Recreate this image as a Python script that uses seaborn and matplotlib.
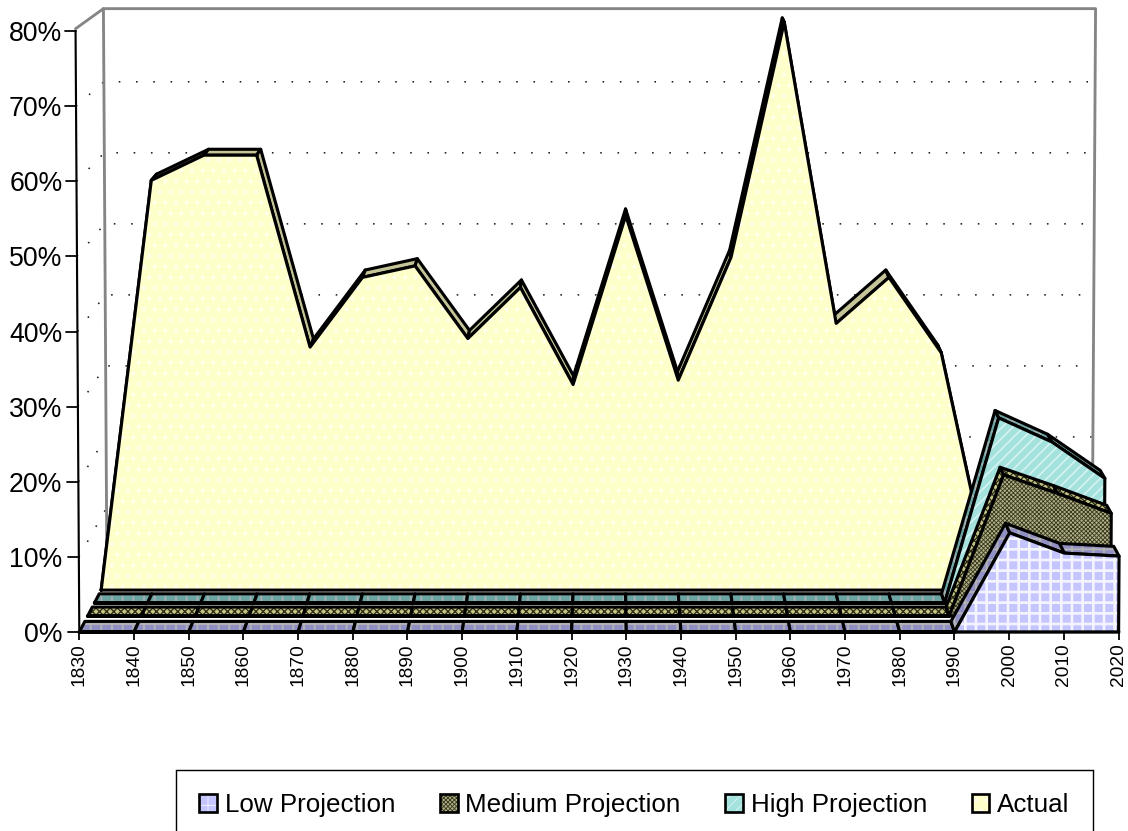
# -*- coding: utf-8 -*-
import numpy as np
import pandas as pd
import seaborn as sns
import matplotlib.pyplot as plt
from matplotlib.patches import Patch
from matplotlib.legend_handler import HandlerTuple

# data
years = list(range(1830, 2030, 10))
actual = [0, 57.0, 60.5, 60.5, 33.8, 43.5, 45.1, 35.0, 42.1, 28.6, 52.1, 29.2, 46.3, 79.0, 37.1, 43.5, 33.0, 0, 0, 0]
high = [0] * 17 + [25.4, 22.1, 17.1]
medium = [0] * 17 + [19.1, 16.6, 13.9]
low = [0] * 17 + [13.2, 10.5, 10.1]
series_names = ['Low Projection', 'Medium Projection', 'High Projection', 'Actual']
y_ticks = [0, 10, 20, 30, 40, 50, 60, 70, 80]

# depth of each area in the box, 0 = front, 1 = back wall
depths = {'Actual': (0.79, 1.0), 'High Projection': (0.547, 0.72),
          'Medium Projection': (0.30, 0.47), 'Low Projection': (0.0, 0.20)}
face_style = {'Actual': ('#ffffcc', '.', 'white', 1.0),
              'High Projection': ('#a4e2de', '//', '#d8f4f2', 1.8),
              'Medium Projection': ('#b4b488', 'xxxxx', '#3a3a22', 1.0),
              'Low Projection': ('#c4c4ff', '+', '#f4f4ff', 3.0)}
strip_style = {'Actual': ('#c4c498', None, 'none', 1.0),
               'High Projection': ('#6ca4a4', '+', '#a8b0b0', 2.0),
               'Medium Projection': ('#c4c484', 'xxx', '#2c2c18', 1.5),
               'Low Projection': ('#9090c4', '+', '#b4b4b4', 2.0)}

sns.set_theme(style='white', rc={'text.color': 'black', 'xtick.color': 'black', 'ytick.color': 'black'})
plt.rcParams['font.family'] = ['Liberation Sans', 'DejaVu Sans']

DPI = 64
fig = plt.figure(figsize=(1128 / DPI, 831 / DPI), dpi=DPI)
ax = fig.add_axes([79.3 / 1128, 1 - 632 / 831, (1118.6 - 79.3) / 1128, 601 / 831])
ax.set_xlim(1830, 2020)
ax.set_ylim(0, 80)
ax.patch.set_alpha(0)


def project(year, value, t):
    # oblique view of the box, the back is smaller and higher than the front
    year, value = np.asarray(year, float), np.asarray(value, float)
    left = 1830 + 5.06 * t
    right = 2020 - 4.86 * t
    x = left + (year - 1830) / 190 * (right - left)
    mid = (left + right) / 2
    x = mid + (x - mid) * (1 + 0.00009 * value)
    y = 7.06 * t + value * (1 - 0.0546 * t)
    return x, y


def poly(x, y, style, z, lw=3.5):
    face, hatch, hcol, hlw = style
    plt.rcParams['hatch.linewidth'] = hlw
    ax.fill(x, y, facecolor=face, hatch=hatch, edgecolor=hcol, linewidth=0, zorder=z, clip_on=False)
    xx = np.append(x, x[0])
    yy = np.append(y, y[0])
    line = pd.DataFrame({'x': xx, 'y': yy})
    sns.lineplot(data=line, x='x', y='y', sort=False, estimator=None, color='black',
                 linewidth=lw, zorder=z + 0.1, ax=ax, clip_on=False)


def wall_line(x, y, color, lw, z=0.5, **kw):
    sns.lineplot(x=x, y=y, sort=False, estimator=None, color=color, linewidth=lw, zorder=z, ax=ax, clip_on=False, **kw)


# walls
grey = '#858585'
for v in y_ticks[1:-1]:
    x0, y0 = project(1830, v, 0)
    x1, y1 = project(1830, v, 1)
    x2, y2 = project(2020, v, 1)
    ax.plot([x0, x1, x2], [y0, y1, y2], color='#202020', lw=1.8, ls=(0, (1, 9.8)), zorder=0.4, clip_on=False)
x0, y0 = project(1830, 80.3, 0)
x1, y1 = project(1830, 80.3, 1)
x2, y2 = project(2020, 80.3, 1)
x3, y3 = project(2020, 0, 1)
x4, y4 = project(1830, 0, 1)
ax.plot([x0, x1, x2, x3], [y0, y1, y2, y3], color=grey, lw=3.2, zorder=0.5, clip_on=False)
ax.plot([x1, x4], [y1, y4], color=grey, lw=3.2, zorder=0.5, clip_on=False)

# areas, back to front
values = {'Actual': actual, 'High Projection': high, 'Medium Projection': medium, 'Low Projection': low}
z = 2
for name in ['Actual', 'High Projection', 'Medium Projection', 'Low Projection']:
    t0, t1 = depths[name]
    fx, fy = project(years, values[name], t0)
    rx, ry = project(years, values[name], t1)
    for i in range(len(years) - 1):
        poly(np.array([fx[i], fx[i + 1], rx[i + 1], rx[i]]), np.array([fy[i], fy[i + 1], ry[i + 1], ry[i]]),
             strip_style[name], z)
        z += 1
    bx, by = project([1830, 2020], [0, 0], t0)
    poly(np.concatenate([fx, bx[::-1]]), np.concatenate([fy, by[::-1]]), face_style[name], z)
    z += 1

# axes
for s in ['top', 'right', 'left']:
    ax.spines[s].set_visible(False)
ax.spines['bottom'].set_linewidth(2.8)
ax.spines['bottom'].set_color('black')
ax.spines['bottom'].set_zorder(z + 1)
ax.set_xticks(years)
ax.set_xticklabels(years, rotation=90, fontsize=21.5, color='black')
ax.tick_params(axis='x', bottom=True, length=9, width=2, color='black', pad=4)
ax.set_yticks(y_ticks)
ax.set_yticklabels([f'{v}%' for v in y_ticks], fontsize=30, color='black')
ax.tick_params(axis='y', left=False, length=0, pad=19)
ax.set_xlabel('')
ax.set_ylabel('')
ax.grid(False)
lx, ly = project([1830, 1830], [0, 80], 0)
wall_line(lx, ly, 'black', 2.4, z=z + 1)
for v in y_ticks:
    tx, ty = project(1830, v, 0)
    ax.plot([tx - 2.0, tx], [ty, ty], color='black', lw=2, zorder=z + 1, clip_on=False)

# legend
handles = []
for name in series_names:
    face, hatch, hcol, hlw = face_style[name]
    plt.rcParams['hatch.linewidth'] = hlw
    fill = Patch(facecolor=face, hatch=hatch, edgecolor=hcol, linewidth=0)
    edge = Patch(facecolor='none', edgecolor='black', linewidth=3.0)
    handles.append((fill, edge))
leg = fig.legend(handles, series_names, handler_map={tuple: HandlerTuple(ndivide=1, pad=0)},
                 ncol=4, loc='upper left', bbox_to_anchor=(176 / 1128, 1 - 770 / 831), bbox_transform=fig.transFigure,
                 fontsize=29.2, labelcolor='black', frameon=True, fancybox=False, framealpha=1, edgecolor='black',
                 borderaxespad=0, handlelength=0.68, handleheight=0.68, handletextpad=0.3, columnspacing=1.72, borderpad=0.9)
leg.get_frame().set_linewidth(1.6)

fig.savefig('out.png', dpi=DPI, facecolor='white')
